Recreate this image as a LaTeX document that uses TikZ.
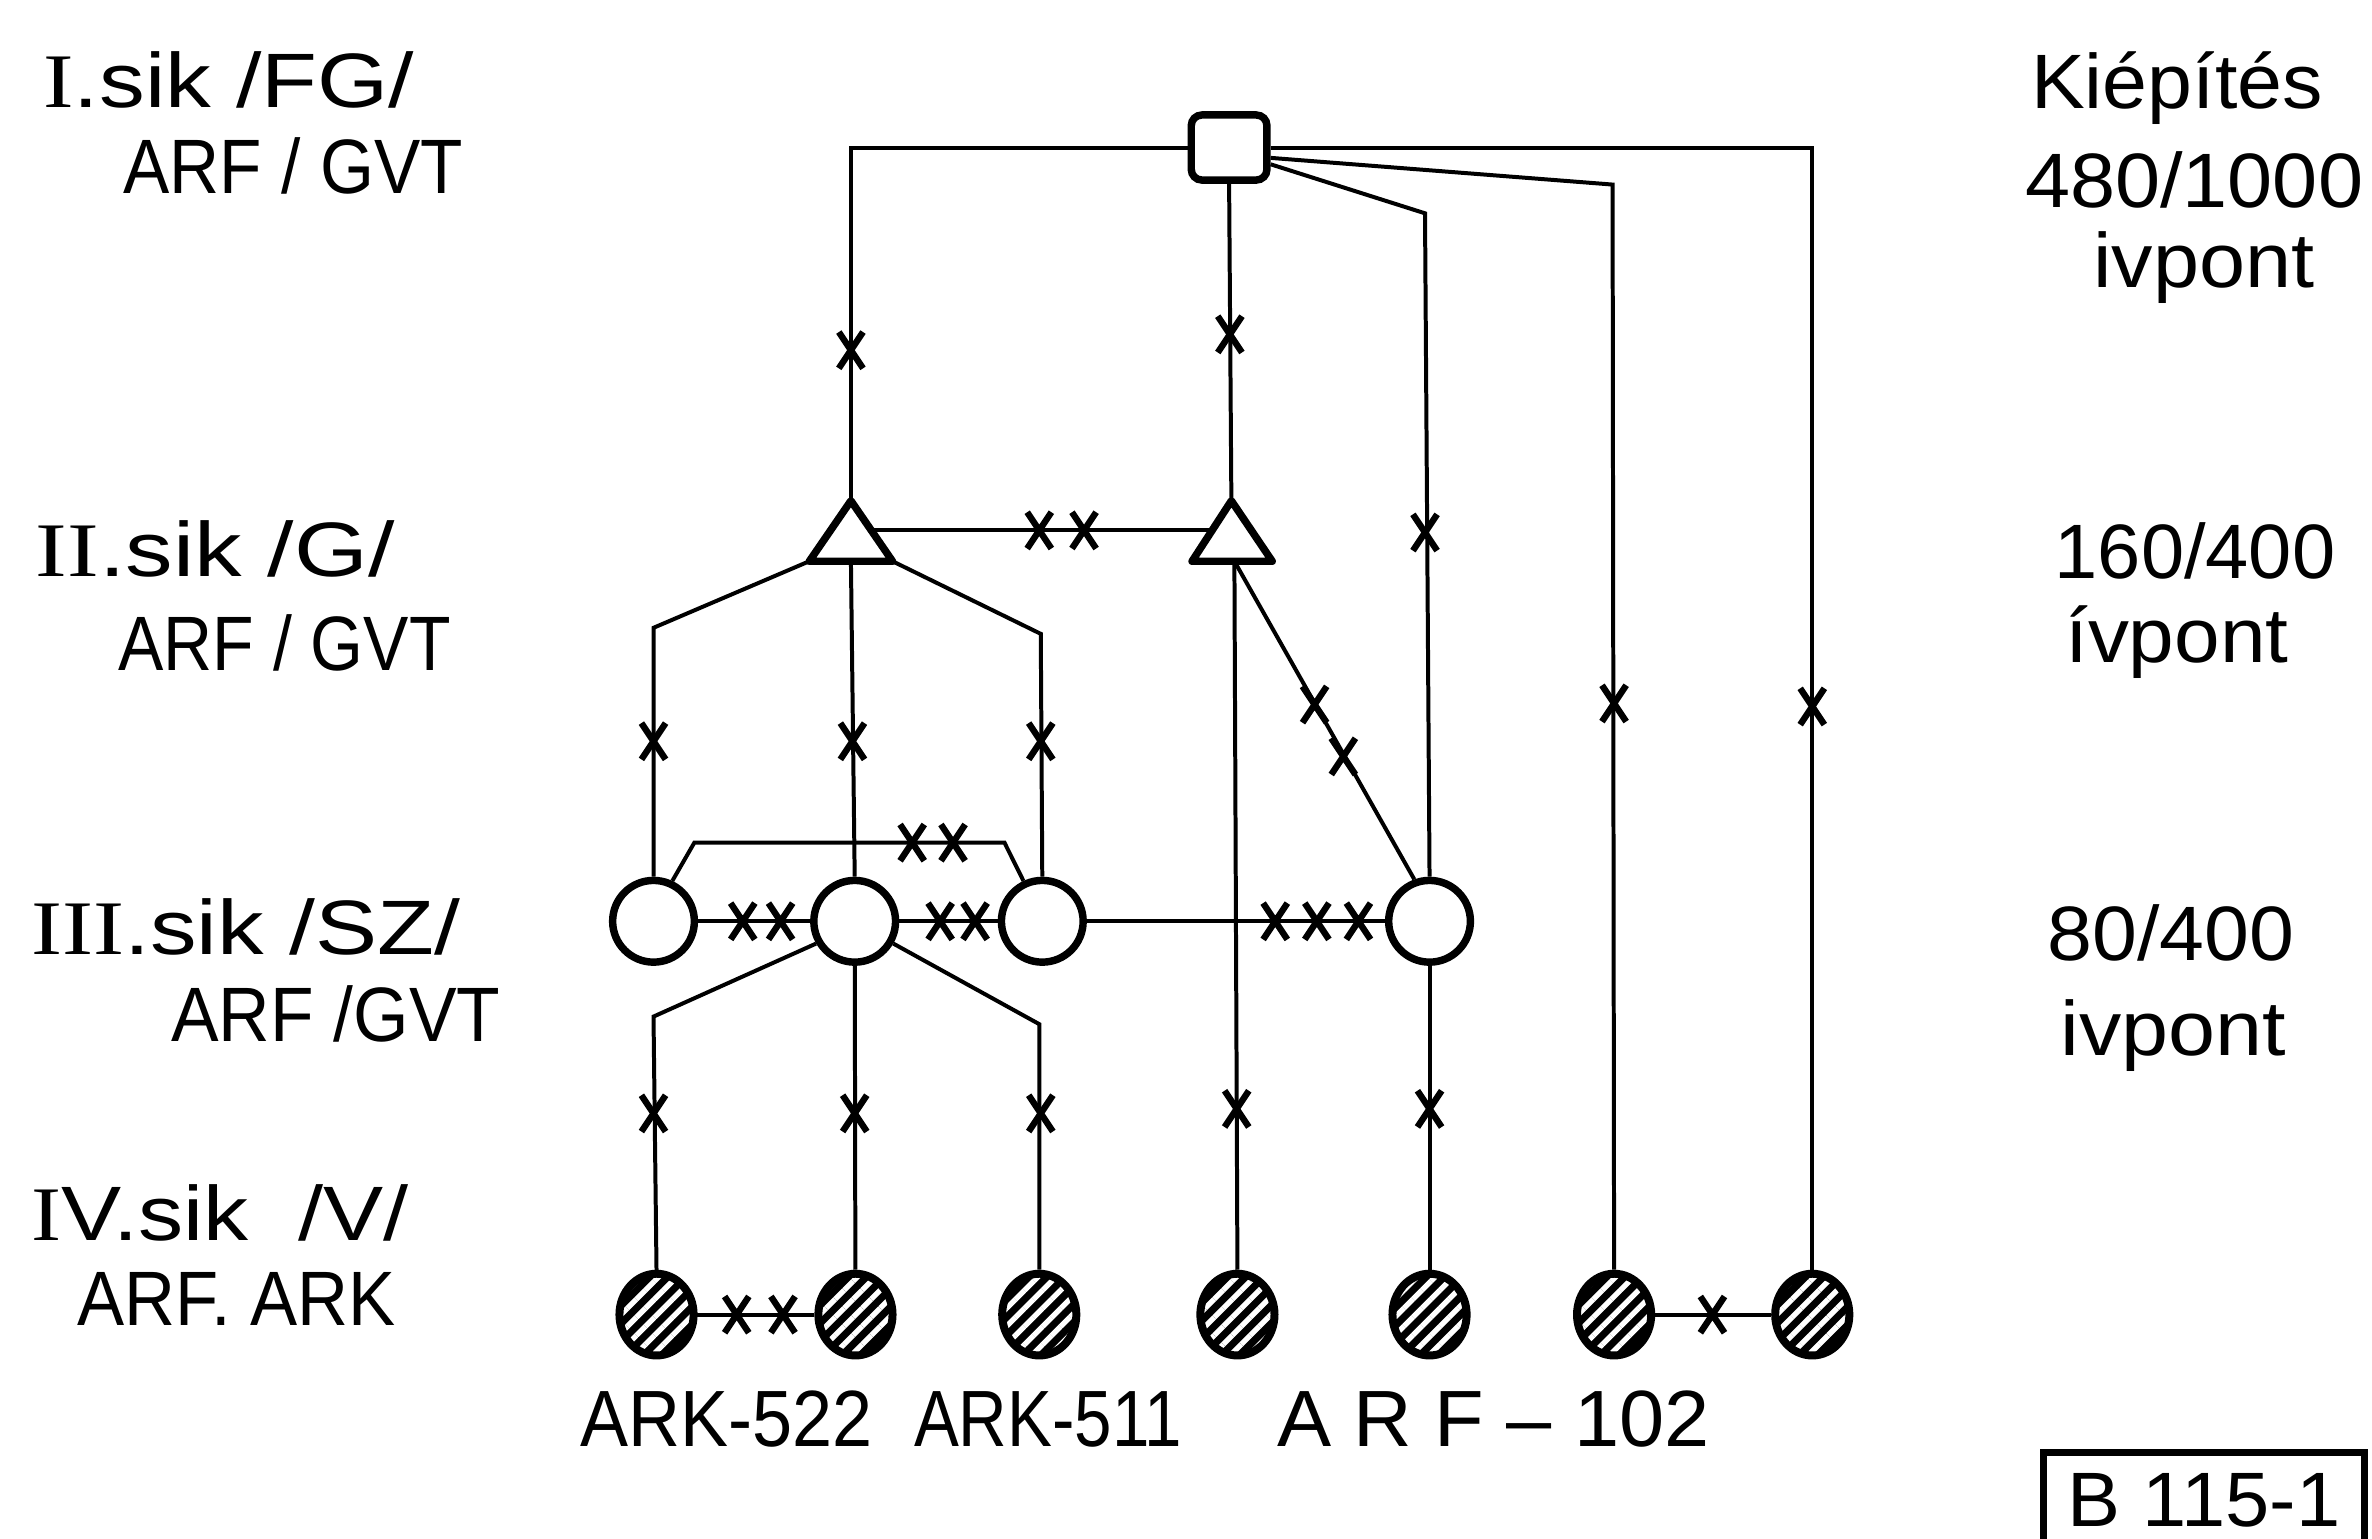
\documentclass[tikz,border=0pt]{standalone}
\usepackage{graphicx}
\usepackage{fontspec}
\setmainfont{Liberation Sans}
\newfontfamily\serI{Liberation Serif}
\usetikzlibrary{shapes.geometric,patterns.meta}
\newcommand\fw[2]{\resizebox{#1}{\height}{#2}}
\tikzset{
  xm/.pic={\draw[line width=1.2pt] (-8,-12)--(8,12) (-8,12)--(8,-12);},
  ln/.style={line width=0.75pt},
  thk/.style={line width=1.4pt},
  opn/.style={circle, draw, line width=1.4pt, minimum size=0.54cm, inner sep=0pt, fill=white},
  ball/.style={ellipse, draw, line width=1.5pt, minimum width=0.49cm, minimum height=0.54cm, inner sep=0pt,
    preaction={fill=black}, pattern={Lines[angle=45,distance=2.4pt,line width=1pt]}, pattern color=white},
  lab/.style={anchor=base west, inner sep=0pt, font=\fontsize{14.5}{16}\selectfont},
  blab/.style={anchor=base west, inner sep=0pt, font=\fontsize{15}{17}\selectfont}
}
\begin{document}
\begin{tikzpicture}[x=0.01cm,y=-0.01cm]
\useasboundingbox (0,0) rectangle (1568,1017);

% top square
\node[draw, thk, rounded corners=2pt, minimum width=0.5cm, minimum height=0.43cm, inner sep=0pt] (sq) at (812.5,97.5) {};

% triangles (drawn as paths between named coordinates)
\coordinate (t1a) at (562.5,331); \coordinate (t1l) at (535,371); \coordinate (t1r) at (590,371);
\coordinate (t1b) at (562.5,371); \coordinate (t1e) at (576,350.6);
\coordinate (t2a) at (814,331); \coordinate (t2l) at (788,371); \coordinate (t2r) at (841,371);
\coordinate (t2b) at (816,371); \coordinate (t2w) at (800.5,350.6);
\draw[thk, line join=round] (t1a) -- (t1r) -- (t1l) -- cycle;
\draw[thk, line join=round] (t2a) -- (t2r) -- (t2l) -- cycle;

% open circles
\node[opn] (c1) at (432,609) {};
\node[opn] (c2) at (565,609) {};
\node[opn] (c3) at (689,609) {};
\node[opn] (c4) at (945,609) {};

% hatched balls
\node[ball] (b1) at (434,869) {};
\node[ball] (b2) at (565.5,869) {};
\node[ball] (b3) at (687,869) {};
\node[ball] (b4) at (818,869) {};
\node[ball] (b5) at (945,869) {};
\node[ball] (b6) at (1067,869) {};
\node[ball] (b7) at (1198,869) {};

% bend coordinates
\coordinate (tl) at (562.5,97.5);
\coordinate (tr) at (1198,97.5);
\coordinate (k1) at (1066,122);
\coordinate (k2) at (942,141);
\coordinate (p1) at (432,415);
\coordinate (p2) at (688,419);
\coordinate (q1) at (459,557);
\coordinate (q2) at (664,557);
\coordinate (r1) at (432,672);
\coordinate (r2) at (687,677);

% connectors
\draw[ln] (sq.west) -- (tl) -- (t1a);
\draw[ln] (sq.east) -- (tr) -- (b7.north);
\draw[ln] (sq.-14) -- (k1) -- (b6.north);
\draw[ln] (sq.-22) -- (k2) -- (c4.north);
\draw[ln] (sq.south) -- (t2a);
\draw[ln] (t1e) -- (t2w);
\draw[ln] (t1l) -- (p1) -- (c1.north);
\draw[ln] (t1b) -- (c2.north);
\draw[ln] (t1r) -- (p2) -- (c3.north);
\draw[ln] (t2b) -- (b4.north);
\draw[ln] (t2b) -- (c4.110);
\draw[ln] (c1.65) -- (q1) -- (q2) -- (c3.115);
\draw[ln] (c1) -- (c2);
\draw[ln] (c2) -- (c3);
\draw[ln] (c3) -- (c4);
\draw[ln] (c2.-150) -- (r1) -- (b1.north);
\draw[ln] (c2) -- (b2);
\draw[ln] (c2.-30) -- (r2) -- (b3.north);
\draw[ln] (c4) -- (b5);
\draw[ln] (b1) -- (b2);
\draw[ln] (b6) -- (b7);

% cross marks
\foreach \p in {(562.5,231.5),(813,221),(942,352),(1067,465),(1198,467),
  (687,350.6),(716.6,350.6),
  (432,490),(563.5,490),(688,490),
  (603,557),(630,557),
  (869,465.7),(888,500),
  (491,609),(516,609),(621.5,609),(644.6,609),(843,609),(870.5,609),(898,609),
  (432,736),(565,736),(688,736),(817.5,733),(945,733),
  (487,869),(517.6,869),(1132,869)}
  \pic at \p {xm};

% left labels
\node[lab] (l1a) at (28,71) {\fw{2.45cm}{{\serI I}.sik /FG/}};
\node[lab] (l1b) at (81,128) {\fw{2.24cm}{ARF / GVT}};
\node[lab] (l2a) at (23,381) {\fw{2.37cm}{{\serI II}.sik /G/}};
\node[lab] (l2b) at (77.5,443) {\fw{2.195cm}{ARF / GVT}};
\node[lab] (l3a) at (20,631) {\fw{2.836cm}{{\serI III}.sik /SZ/}};
\node[lab] (l3b) at (112.6,688.5) {\fw{2.174cm}{ARF /GVT}};
\node[lab] (l4a) at (20,820) {\fw{2.494cm}{{\serI I}V.sik \ /V/}};
\node[lab] (l4b) at (50.6,876) {\fw{2.10cm}{ARF. ARK}};

% right labels
\node[lab] (r1a) at (1342,72) {\fw{1.926cm}{Kiépítés}};
\node[lab] (r1b) at (1338,137) {\fw{2.233cm}{480/1000}};
\node[lab] (r1c) at (1383,190) {\fw{1.46cm}{ivpont}};
\node[lab] (r2a) at (1357.5,382.5) {\fw{1.855cm}{160/400}};
\node[lab] (r2b) at (1364.5,438) {\fw{1.475cm}{ívpont}};
\node[lab] (r3a) at (1353,635) {\fw{1.63cm}{80/400}};
\node[lab] (r3b) at (1361.6,698) {\fw{1.49cm}{ivpont}};

% bottom labels
\node[blab] (n1) at (383,956) {\fw{1.93cm}{ARK-522}};
\node[blab] (n2) at (603.5,956) {\fw{1.77cm}{ARK-511}};
\node[blab] (n3) at (843.5,956) {\fw{2.86cm}{A R F – 102}};

% code box (its lower edge lies below the picture's edge)
\node[draw, line width=1.3pt, minimum width=2.12cm, minimum height=0.64cm, inner sep=0pt,
  font=\fontsize{14.5}{16}\selectfont] (bx) at (1457,992) {\fw{1.80cm}{B 115-1}};
\end{tikzpicture}
\end{document}
